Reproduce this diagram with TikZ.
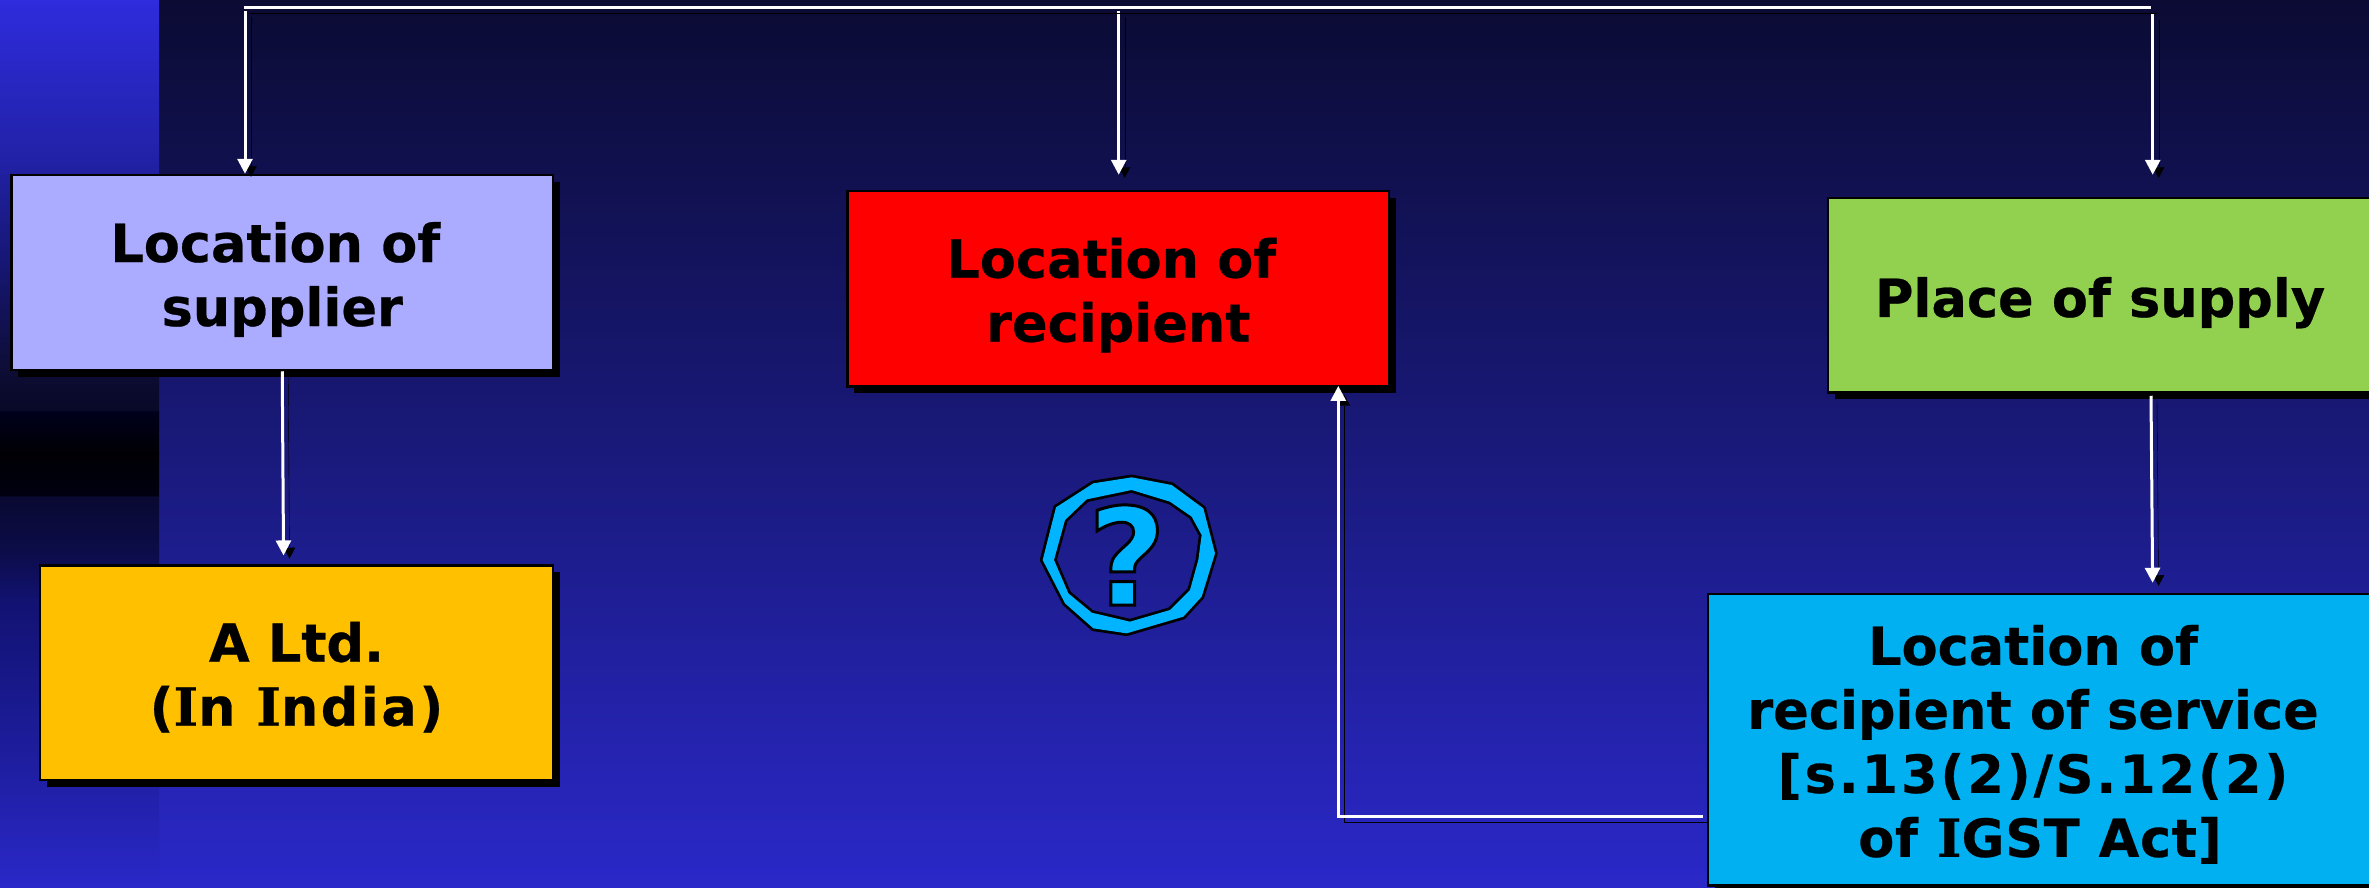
\documentclass[tikz,border=0pt]{standalone}
\usepackage{fontspec}
\setmainfont[BoldFeatures={FakeBold=0.5}]{DejaVu Sans}
\newfontfamily\slabface[BoldFeatures={FakeBold=0.5}]{DejaVu Serif}
\newfontfamily\iconface{DejaVu Sans}
\usetikzlibrary{arrows.meta,shadows,calc}
\definecolor{bgtop}{RGB}{11,11,52}
\definecolor{bgbot}{RGB}{42,40,200}
\definecolor{bgmid}{RGB}{25,25,122}
\definecolor{boxlilac}{RGB}{171,171,255}
\definecolor{boxamber}{RGB}{255,192,0}
\definecolor{boxred}{RGB}{255,0,0}
\definecolor{boxgreen}{RGB}{146,208,80}
\definecolor{boxcyan}{RGB}{0,176,240}
\definecolor{iconcyan}{RGB}{0,180,255}
\definecolor{sa}{RGB}{42,40,200}
\definecolor{sb}{RGB}{30,30,160}
\definecolor{sc}{RGB}{18,18,115}
\definecolor{sd}{RGB}{12,12,72}
\definecolor{se}{RGB}{9,9,50}
\definecolor{sf}{RGB}{0,0,16}
\definecolor{sg}{RGB}{0,0,4}
\definecolor{sf2}{RGB}{0,0,28}
\definecolor{sh}{RGB}{8,8,40}
\definecolor{sh2}{RGB}{13,13,52}
\definecolor{si}{RGB}{22,22,115}
\definecolor{sj}{RGB}{34,34,170}
\definecolor{sk}{RGB}{46,44,220}
% the path covers the inner 25--75bp of a shading: s = 75 - y/17.74
\pgfdeclareverticalshading{stripshade}{100bp}{
 color(0bp)=(sa);
 color(25bp)=(sa);
 color(32bp)=(sb);
 color(41bp)=(sc);
 color(44bp)=(sd);
 color(47bp)=(se);
 color(47.1bp)=(sf);
 color(49.5bp)=(sg);
 color(51.8bp)=(sf2);
 color(51.9bp)=(sh);
 color(54bp)=(sh2);
 color(60bp)=(si);
 color(66.5bp)=(sj);
 color(75bp)=(sk);
 color(100bp)=(sk)}
\newcommand{\topfill}[1]{\rule{0pt}{#1pt}}
\newcommand{\botfill}{\rule[-20pt]{0pt}{20pt}}
\newcommand{\tsp}{\rule{14pt}{0pt}}
\newcommand{\slabI}{{\slabface\bfseries I}}
\tikzset{
 diagbox/.style={draw=black,line width=2.5pt,inner sep=0pt,align=center,text=black,
   font=\fontsize{52.5}{64}\bfseries\selectfont,
   drop shadow={shadow xshift=6.5pt,shadow yshift=-6.5pt,fill=black,opacity=1}},
 wire/.style={draw=white,line width=3pt,
   preaction={draw=black,transform canvas={shift={(6,6)}}}},
 arrowed/.style={wire,-{Triangle[width=15pt,length=15pt]}},
 iconback/.style={draw=black,line width=5.5pt,line join=round},
 iconpart/.style={fill=iconcyan,draw=none}
}
\begin{document}
\begin{tikzpicture}[x=1pt,y=-1pt]
\useasboundingbox (0,0) rectangle (2369,887);
\clip (0,0) rectangle (2369,887);
\shade[top color=bgtop,bottom color=bgbot,middle color=bgmid] (0,0) rectangle (2369,887);
\shade[shading=stripshade] (0,0) rectangle (159,887);

\node[diagbox,fill=boxlilac,minimum width=541.5pt,minimum height=195pt] (supplier) at (282.25,272.5)
  {\topfill{63}Location of\tsp\\supplier\botfill};
\node[diagbox,fill=boxamber,minimum width=513pt,minimum height=214.3pt] (ltd) at (296.5,672.85)
  {\topfill{61.6}A Ltd.\\{\addfontfeature{LetterSpace=4.8}(\slabI n \slabI ndia)}\botfill};
\node[diagbox,fill=boxred,minimum width=541.5pt,minimum height=195.7pt] (recipient) at (1118.25,288.85)
  {\topfill{61.6}Location of\tsp\\recipient\botfill};
\node[diagbox,fill=boxgreen,minimum width=544pt,minimum height=194.5pt] (place) at (2100,295.25)
  {\topfill{63.4}Place of supply\botfill};
\node[diagbox,fill=boxcyan,minimum width=664pt,minimum height=291.5pt] (service) at (2040,739.75)
  {\topfill{62.2}Location of\tsp\\recipient of service\tsp\\{\addfontfeature{LetterSpace=5.5}[s.13(2)/S.12(2)}\tsp\\{\addfontfeature{LetterSpace=1.4}of \slabI GST Act]}\botfill};

% question-mark icon
\begin{scope}[shift={(950,420)},x=0.33333pt,y=-0.33333pt]
\path[iconback]
  (318,262)--(430,190)--(545,172)--(665,195)--(760,265)--(795,400)--(755,530)--(700,590)--(530,640)--(430,625)--(345,550)--(278,420)--cycle
  (410,238)--(345,300)--(312,420)--(355,520)--(425,578)--(540,605)--(660,570)--(720,510)--(745,420)--(755,345)--(725,290)--(660,245)--(545,210)--cycle;
\path[iconpart,even odd rule]
  (318,262)--(430,190)--(545,172)--(665,195)--(760,265)--(795,400)--(755,530)--(700,590)--(530,640)--(430,625)--(345,550)--(278,420)--cycle
  (410,238)--(345,300)--(312,420)--(355,520)--(425,578)--(540,605)--(660,570)--(720,510)--(745,420)--(755,345)--(725,290)--(660,245)--(545,210)--cycle;
\end{scope}
\node[inner sep=0pt,text=iconcyan,font=\iconface\fontsize{135}{135}\bfseries\selectfont] (qmark) at (1127,555)
  {\special{pdf:code 2 Tr 3 w 0 0 0 RG}?\special{pdf:code 0 Tr}};

% connectors
\coordinate (busL) at (245,11);
\coordinate (busM) at (1118.7,11);
\coordinate (busR) at (2152.7,14);
\coordinate (busA) at (244,7.6);
\coordinate (busB) at (2151,7.6);
\coordinate (turn) at (1338.3,816.5);
\coordinate (svcout) at (1702.7,816.5);

\draw[arrowed] (busL) -- (busL |- supplier.north);
\draw[arrowed,shorten >=15pt] (busM) -- (busM |- recipient.north);
\draw[arrowed,shorten >=22pt] (busR) -- (busR |- place.north);
\draw[wire] (busA) -- (busB);
\draw[arrowed,shorten >=9pt] (supplier.south) -- ([xshift=-12.9pt]ltd.north);
\draw[arrowed,shorten >=10pt] ([xshift=51pt,yshift=-2pt]place.south) -- ([xshift=112.7pt]service.north);
\draw[arrowed,line join=miter,shorten >=-2pt] (svcout) -- (turn) -- (turn |- recipient.south);
\end{tikzpicture}
\end{document}
